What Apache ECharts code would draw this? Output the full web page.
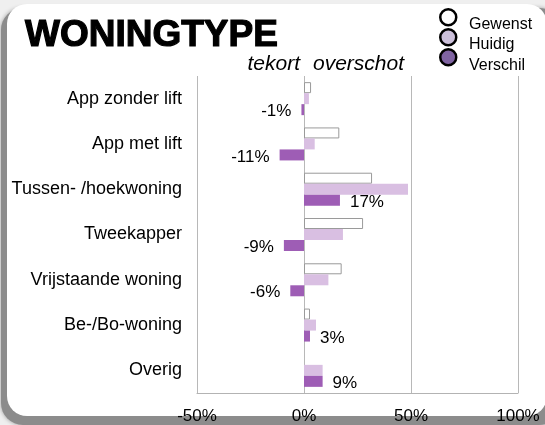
<!DOCTYPE html>
<html>
<head>
<meta charset="utf-8">
<script src="https://cdn.jsdelivr.net/npm/echarts@6/dist/echarts.min.js"></script>
<style>
html,body{margin:0;padding:0;background:#efefef;}
#c{width:545px;height:425px;}
</style>
</head>
<body>
<div id="c"></div>
<script>
const categories = ['App zonder lift','App met lift','Tussen- /hoekwoning','Tweekapper','Vrijstaande woning','Be-/Bo-woning','Overig'];
const gewenst = [3.3, 16.5, 31.8, 27.6, 17.6, 2.8, 0];
const huidig = [2.3, 5.0, 48.6, 18.2, 11.4, 5.6, 8.7];
const verschil = [-1.2, -11.4, 16.8, -9.4, -6.4, 2.8, 8.7];
const xTicks = {min: -50, max: 100, interval: 50};
const seriesNames = ['Gewenst','Huidig','Verschil'];
const legendColors = ['#ffffff', '#ccc0da', '#8064a2'];

const FONT = 'Liberation Sans';
const chart = echarts.init(document.getElementById('c'), null, {renderer:'canvas'});

const option = {
  backgroundColor: '#efefef',
  animation: false,
  textStyle: {fontFamily: FONT},
  graphic: [
    {type:'rect', z:-10, shape:{x:1, y:8, width:560, height:417, r:22}, style:{fill:'#8c8c8c', shadowBlur:4, shadowColor:'rgba(0,0,0,0.35)'}},
    {type:'rect', z:-9, shape:{x:7, y:4, width:540, height:412, r:20}, style:{fill:'#ffffff'}},
    {type:'text', x:300, y:64, style:{text:'tekort', font:'italic 21px "Liberation Sans"', fill:'#000', align:'right', verticalAlign:'middle'}},
    {type:'text', x:313, y:64, style:{text:'overschot', font:'italic 21px "Liberation Sans"', fill:'#000', align:'left', verticalAlign:'middle'}}
  ],
  title: {
    text: 'WONINGTYPE', left: 20, top: 12,
    textStyle: {fontFamily: FONT, fontSize: 37, fontWeight: 'bold', color: '#000', textBorderColor:'#000', textBorderWidth: 1.2}
  },
  legend: [
    {
      orient: 'vertical', left: 439, top: 8, padding: 0,
      itemWidth: 16, itemHeight: 16, itemGap: 1.5,
      icon: 'circle', formatter: () => '',
      textStyle: {fontSize: 8},
      data: seriesNames.map((n, i) => ({name: n, itemStyle: {color: legendColors[i], borderColor:'#000', borderWidth:2.5}}))
    },
    {
      orient: 'vertical', left: 454, top: 16.5, padding: 0,
      itemWidth: 10, itemHeight: 16, itemGap: 4.5,
      icon: 'rect',
      textStyle: {fontFamily: FONT, fontSize: 16, color: '#000'},
      data: seriesNames.map(n => ({name: n, itemStyle: {color:'rgba(0,0,0,0)', borderWidth:0, opacity:0}}))
    }
  ],
  grid: {left: 197, right: 27, top: 76, bottom: 32, containLabel: false},
  xAxis: {
    type: 'value', min: xTicks.min, max: xTicks.max, interval: xTicks.interval,
    axisLine: {show: true, lineStyle: {color:'#b3b3b3', width:1}},
    axisTick: {show: false},
    splitLine: {show: true, lineStyle: {color:'#b8b8b8', width:1}},
    axisLabel: {formatter: v => v + '%', fontFamily: FONT, fontSize: 17, color:'#000', margin: 15}
  },
  yAxis: {
    type: 'category', data: categories, inverse: true,
    axisLine: {show: false}, axisTick: {show: false},
    axisLabel: {fontFamily: FONT, fontSize: 18, color:'#000', margin: 15}
  },
  series: [
    {name: seriesNames[0], type:'bar', barWidth: 11, barGap: '0%',
     data: gewenst.map(v => v === 0 ? {value: v, itemStyle: {borderWidth: 0}} : v),
     itemStyle: {color:'#ffffff', borderColor:'#9a9a9a', borderWidth:1}},
    {name: seriesNames[1], type:'bar', data: huidig, barWidth: 11, barGap: '0%',
     itemStyle: {color:'#d9bfe2'}},
    {name: seriesNames[2], type:'bar', barWidth: 11, barGap: '0%',
     data: verschil.map(v => ({value: v, label: {position: v < 0 ? 'left' : 'right'}})),
     itemStyle: {color:'#9e5db5'},
     label: {show: true, distance: 10, offset:[0,2], formatter: p => Math.round(p.value) + '%',
             fontFamily: FONT, fontSize: 17, color:'#000'}}
  ]
};
chart.setOption(option);
</script>
</body>
</html>
